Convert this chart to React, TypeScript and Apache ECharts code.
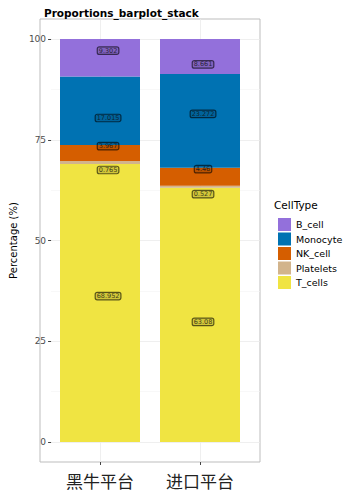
import React, { useEffect, useRef } from "react";
import * as echarts from "echarts";

const categories = ["黑牛平台", "进口平台"];
const legendOrder = ["B_cell", "Monocyte", "NK_cell", "Platelets", "T_cells"];
const stackOrder = ["T_cells", "Platelets", "NK_cell", "Monocyte", "B_cell"];

const tCells = [68.952, 63.08];
const platelets = [0.765, 0.527];
const nkCell = [3.967, 4.46];
const monocyte = [17.015, 23.272];
const bCell = [9.302, 8.661];

// label anchor heights
const tCellsLabelY = [36.2, 29.8];
const plateletsLabelY = [67.5, 61.5];
const nkCellLabelY = [73.4, 67.7];
const monocyteLabelY = [80.4, 81.4];
const bCellLabelY = [97.1, 93.7];

const yMin = 0;
const yMax = 100;
const yInterval = 25;

const colors: Record<string, string> = {
  B_cell: "#9370DB",
  Monocyte: "#0072B2",
  NK_cell: "#D55E00",
  Platelets: "#D2B48C",
  T_cells: "#F0E442",
};

const values: Record<string, number[]> = {
  T_cells: tCells,
  Platelets: platelets,
  NK_cell: nkCell,
  Monocyte: monocyte,
  B_cell: bCell,
};
const labelYs: Record<string, number[]> = {
  T_cells: tCellsLabelY,
  Platelets: plateletsLabelY,
  NK_cell: nkCellLabelY,
  Monocyte: monocyteLabelY,
  B_cell: bCellLabelY,
};

export default function App() {
  const ref = useRef<HTMLDivElement>(null);
  useEffect(() => {
    if (!ref.current) return;
    const chart = echarts.init(ref.current, undefined, { renderer: "svg" });
    const barSeries = stackOrder.map((name) => ({
      name,
      type: "bar",
      stack: "total",
      barWidth: 80,
      xAxisIndex: 1,
      yAxisIndex: 1,
      z: 2,
      itemStyle: { color: colors[name] },
      data: values[name],
    }));
    const labelData: any[] = [];
    stackOrder.forEach((name) => {
      categories.forEach((_, i) => {
        labelData.push([i + 1, labelYs[name][i], String(values[name][i])]);
      });
    });
    const labelSeries = {
      type: "scatter",
      symbolSize: 0,
      xAxisIndex: 2,
      yAxisIndex: 2,
      z: 10,
      silent: true,
      data: labelData,
      label: {
        show: true,
        position: "inside",
        formatter: (p: any) => p.value[2],
        fontSize: 6.5,
        fontFamily: "DejaVu Sans",
        color: "#111",
        backgroundColor: "rgba(0,0,0,0.16)",
        borderColor: "rgba(0,0,0,0.75)",
        borderWidth: 0.6,
        borderRadius: 2,
        padding: [0.5, 1.5, 0, 1.5],
      },
    };
    chart.setOption({
      animation: false,
      backgroundColor: "#ffffff",
      title: {
        text: "Proportions_barplot_stack",
        left: 39,
        top: 2,
        textStyle: {
          fontSize: 10.5,
          fontWeight: "bold",
          fontFamily: "DejaVu Sans",
          color: "#000",
        },
      },
      grid: [
        {
          left: 40,
          right: 88,
          top: 19,
          bottom: 41,
          show: true,
          borderColor: "#BDBDBD",
          borderWidth: 1,
          backgroundColor: "transparent",
        },
        { left: 50, right: 98, top: 39, bottom: 61 },
        { left: 40, right: 88, top: 39, bottom: 61 },
      ],
      legend: {
        orient: "vertical",
        left: 273,
        top: 213,
        itemWidth: 13,
        itemHeight: 13,
        itemGap: 1.5,
        icon: "rect",
        data: legendOrder,
        textStyle: { fontSize: 9.5, fontFamily: "DejaVu Sans", color: "#000" },
      },
      graphic: [
        {
          type: "text",
          left: 274,
          top: 199,
          style: { text: "CellType", fontSize: 10.5, fontFamily: "DejaVu Sans", fill: "#000" },
        },
      ],
      xAxis: [
        {
          type: "value",
          gridIndex: 0,
          min: 0.4,
          max: 2.6,
          axisLine: { show: false },
          axisTick: { show: true, length: 3, customValues: [1, 2], lineStyle: { color: "#444" } },
          axisLabel: {
            customValues: [1, 2],
            formatter: (v: number) => categories[Math.round(v) - 1] ?? "",
            fontSize: 17,
            fontFamily: "Noto Sans CJK SC",
            color: "#222",
            margin: 10,
          },
          splitLine: { show: true, lineStyle: { color: "#EBEBEB", width: 0.8 } },
        },
        {
          type: "category",
          gridIndex: 1,
          data: categories,
          show: false,
        },
        {
          type: "value",
          gridIndex: 2,
          min: 0.4,
          max: 2.6,
          show: false,
          splitLine: { show: false },
        },
      ],
      yAxis: [
        {
          type: "value",
          gridIndex: 0,
          min: 0,
          max: 1,
          show: false,
          splitLine: { show: false },
        },
        {
          type: "value",
          gridIndex: 1,
          min: yMin,
          max: yMax,
          show: false,
          splitLine: { show: false },
        },
        {
          type: "value",
          gridIndex: 2,
          min: yMin,
          max: yMax,
          interval: yInterval,
          name: "Percentage (%)",
          nameLocation: "middle",
          nameGap: 26,
          nameTextStyle: { fontSize: 10, fontFamily: "DejaVu Sans", color: "#000" },
          axisLine: { show: false },
          axisTick: { show: true, length: 3, lineStyle: { color: "#444" } },
          axisLabel: {
            fontSize: 9,
            fontFamily: "DejaVu Sans",
            color: "#4D4D4D",
            margin: 5,
          },
          splitLine: { show: true, lineStyle: { color: "#EBEBEB", width: 0.8 } },
          minorTick: { show: false, splitNumber: 2 },
          minorSplitLine: { show: true, lineStyle: { color: "#F4F4F4", width: 0.6 } },
        },
      ],
      series: [...barSeries, labelSeries],
    });
    return () => chart.dispose();
  }, []);
  return (
    <div
      ref={ref}
      style={{ position: "fixed", left: 0, top: 0, width: 348, height: 503 }}
    />
  );
}
